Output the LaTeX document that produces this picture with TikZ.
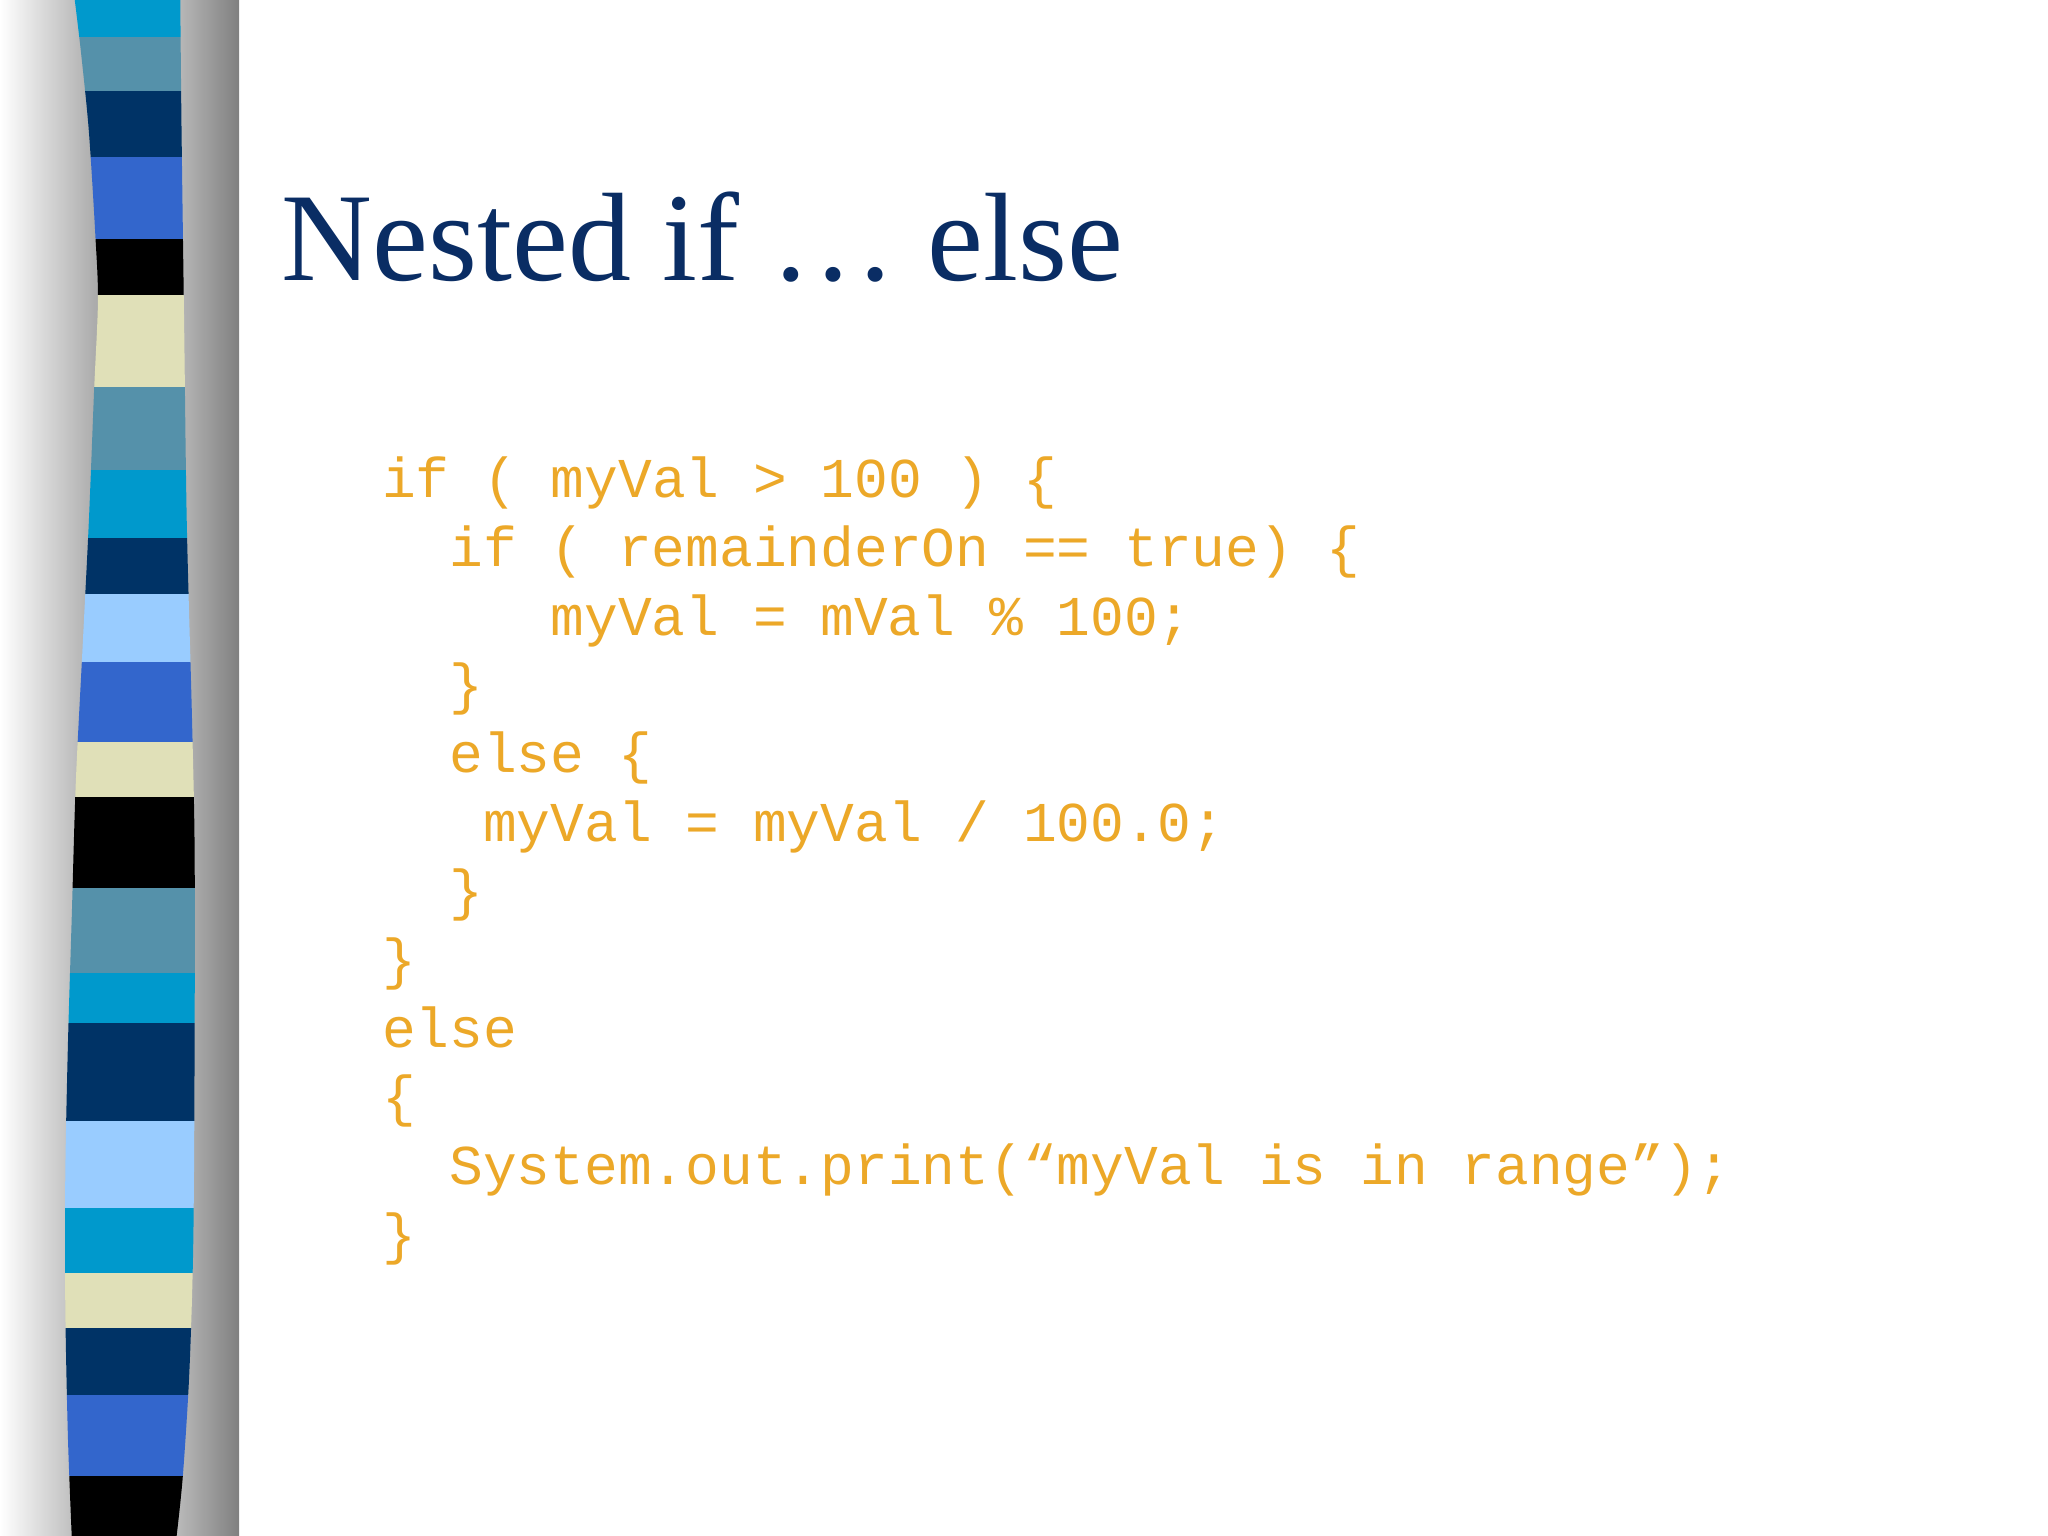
\documentclass[tikz,border=0pt]{standalone}
\usepackage{fontspec}
\setmainfont{Liberation Serif}
\setmonofont{Liberation Mono}
\definecolor{cyanb}{RGB}{0,153,204}
\definecolor{teal}{RGB}{85,145,170}
\definecolor{navy}{RGB}{0,51,102}
\definecolor{royal}{RGB}{51,102,204}
\definecolor{beige}{RGB}{224,224,184}
\definecolor{lightb}{RGB}{153,204,255}
\definecolor{codeor}{RGB}{236,168,40}
\definecolor{titleblue}{RGB}{10,45,100}
\tikzset{code/.style={anchor=base west,inner sep=0pt,text=codeor,font=\fontsize{16}{16}\selectfont\ttfamily}}
\begin{document}
\begin{tikzpicture}[x=0.013061cm,y=-0.013061cm]
\useasboundingbox (0,0) rectangle (1568,1176);
\fill[white] (0,0) rectangle (1568,1176);
\shade[left color=white,right color=black!45] (0,0) rectangle (100,1176);
\shade[left color=black!10,right color=black!50] (100,0) rectangle (183,1176);
\begin{scope}
\clip plot[smooth] coordinates {(57,-2)(62,40)(68,100)(73,180)(75,230)(72,300)(68,400)(63,500)(58,600)(55,700)(52,800)(50,900)(50,1000)(52,1100)(55,1178)}
 -- plot[smooth] coordinates {(135,1178)(140,1130)(145,1050)(148,950)(149,800)(149,650)(147,550)(143,400)(141,250)(139,100)(138,-2)} -- cycle;
\foreach \a/\b/\c in {-2/28/cyanb,28/70/teal,70/120/navy,120/183/royal,183/226/black,226/296/beige,296/360/teal,360/412/cyanb,412/455/navy,455/507/lightb,507/568/royal,568/610/beige,610/680/black,680/745/teal,745/783/cyanb,783/858/navy,858/925/lightb,925/975/cyanb,975/1017/beige,1017/1068/navy,1068/1130/royal,1130/1178/black}
  \fill[\c] (40,\a) rectangle (160,\b);
\end{scope}
\node[anchor=base west,inner sep=0pt,text=titleblue,font=\fontsize{35.8}{40}\selectfont] (title) at (215,215) {Nested if … else};
\foreach \n/\ind/\t in {0/0/{if ( myVal > 100 ) \{},1/2/{if ( remainderOn == true) \{},2/5/{myVal = mVal \% 100;},3/2/{\}},4/2/{else \{},5/3/{myVal = myVal / 100.0;},6/2/{\}},7/0/{\}},8/0/{else},9/0/{\{},10/2/{System.out.print(“myVal is in range”);},11/0/{\}}}
  \node[code] (l\n) at (292+\ind*25.8,381+\n*52.6) {\t};
\end{tikzpicture}
\end{document}
